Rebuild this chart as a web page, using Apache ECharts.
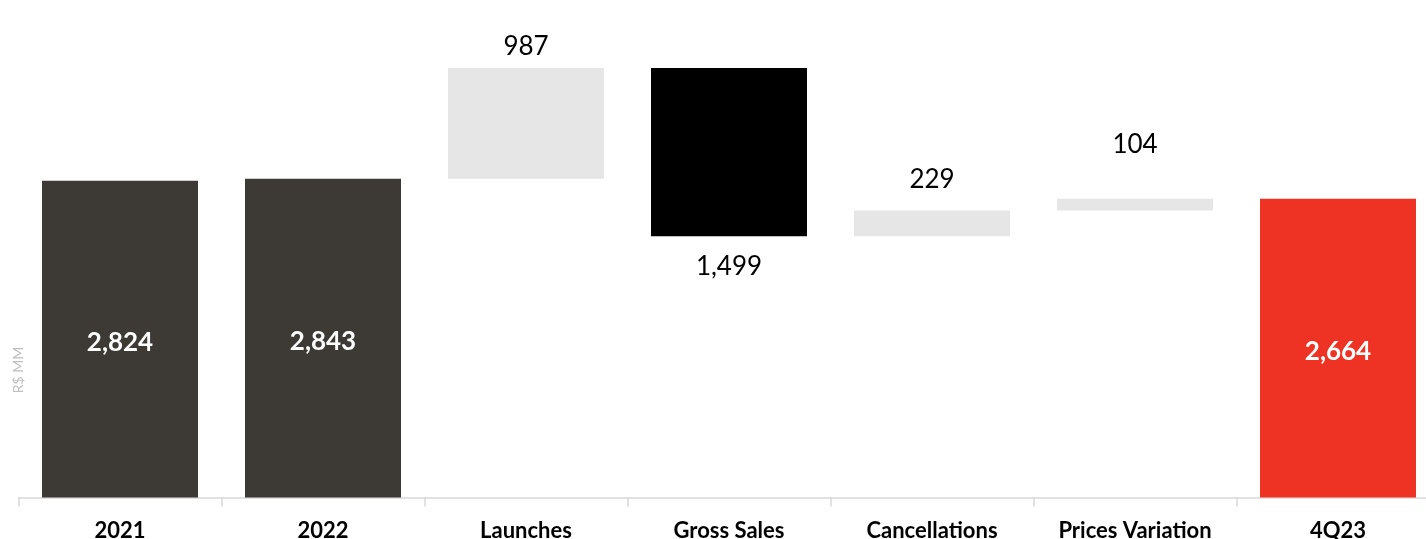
<!DOCTYPE html>
<html>
<head>
<meta charset="utf-8">
<title>Net Sales Bridge</title>
<script src="https://cdn.jsdelivr.net/npm/echarts@6/dist/echarts.min.js"></script>
<style>
  html, body { margin: 0; padding: 0; background: #ffffff; }
  #chart { width: 1426px; height: 539px; }
</style>
</head>
<body>
<div id="chart"></div>
<script>
// Bridge categories and their values (R$ MM); negative = reduction
const categories = ['2021', '2022', 'Launches', 'Gross Sales', 'Cancellations', 'Prices Variation', '4Q23'];
const values = [2824, 2843, 987, -1499, 229, 104, 2664];
// Which bars are full totals standing on the axis
const isTotal = [true, true, false, false, false, false, true];

const FONT = 'Lato, "Open Sans", sans-serif';
const colors = ['#3d3935', '#3d3935', '#e6e6e6', '#000000', '#e6e6e6', '#e6e6e6', '#ee3224'];
// label distance above/below floating bars
const labelGap = [0, 0, 8, 17, 18, 41, 0];

const fmt = v => Math.abs(v).toLocaleString('en-US');

// Build invisible base + visible segment for the waterfall
const baseData = [];
const barData = [];
let running = 0;
values.forEach((v, i) => {
  if (isTotal[i]) {
    baseData.push(0);
    running = v;
    barData.push({
      value: v,
      itemStyle: { color: colors[i] },
      label: { show: true, position: 'inside', offset: [0, 3], color: '#ffffff', fontWeight: 'bold', fontSize: 26, fontFamily: FONT, formatter: fmt(v) }
    });
  } else {
    const start = v >= 0 ? running : running + v;
    baseData.push(start);
    running += v;
    barData.push({
      value: Math.abs(v),
      itemStyle: { color: colors[i] },
      label: {
        show: true,
        position: v >= 0 ? 'top' : 'bottom',
        distance: labelGap[i],
        color: '#000000',
        fontSize: 26,
        fontFamily: FONT,
        formatter: fmt(v)
      }
    });
  }
});

const chart = echarts.init(document.getElementById('chart'));
chart.setOption({
  animation: false,
  grid: { left: 18.5, top: 49, width: 1421, bottom: 41.5, containLabel: false, outerBoundsMode: 'none' },
  xAxis: {
    type: 'category',
    data: categories,
    axisLine: { show: true, lineStyle: { color: '#d9d9d9', width: 1.5 } },
    axisTick: { show: true, interval: 0, length: 9, lineStyle: { color: '#d9d9d9', width: 1.5 } },
    axisLabel: { color: '#000000', fontWeight: 'bold', fontSize: 22, fontFamily: FONT, margin: 22, interval: 0 }
  },
  yAxis: {
    type: 'value',
    min: 0,
    max: 4000,
    axisLine: { show: false },
    axisTick: { show: false },
    axisLabel: { show: false },
    splitLine: { show: false }
  },
  graphic: [{
    type: 'text',
    x: 18,
    y: 370,
    rotation: Math.PI / 2,
    style: { text: 'R$ MM', fill: '#bfbfbf', font: '14px ' + FONT, textAlign: 'center', textVerticalAlign: 'middle' }
  }],
  series: [
    {
      type: 'bar',
      stack: 'bridge',
      data: baseData,
      itemStyle: { color: 'transparent' },
      emphasis: { disabled: true },
      silent: true,
      barWidth: 156
    },
    {
      type: 'bar',
      stack: 'bridge',
      data: barData,
      barWidth: 156
    }
  ]
});
</script>
</body>
</html>
